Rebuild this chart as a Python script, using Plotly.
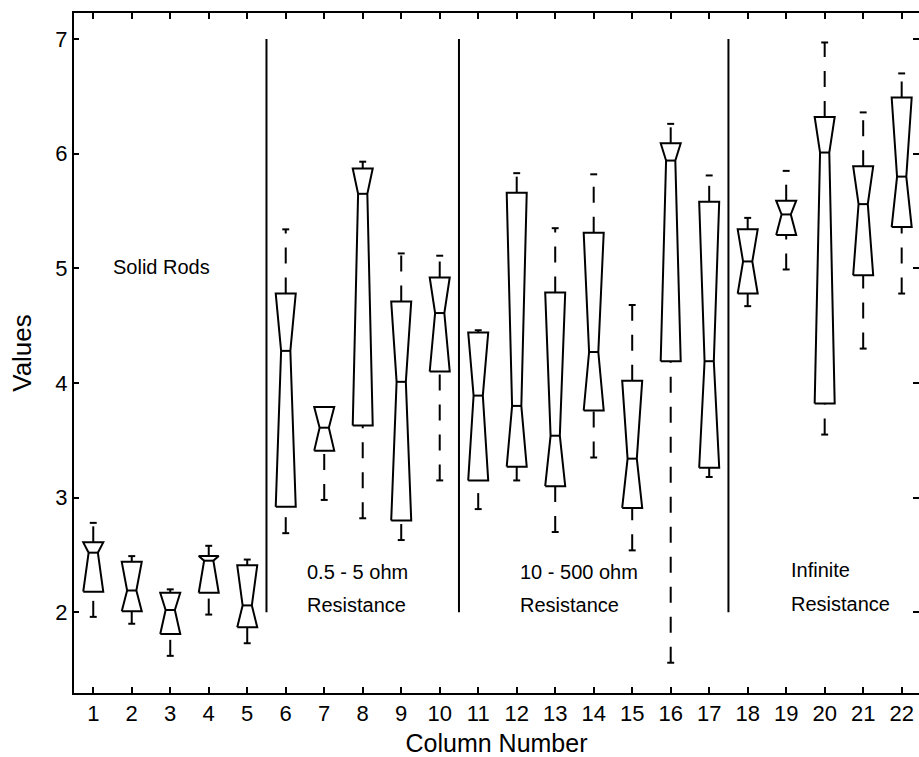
import plotly.graph_objects as go

# ---- data ----
columns = list(range(1, 23))
q1 = [2.18, 2.01, 1.81, 2.17, 1.87, 2.92, 3.41, 3.63, 2.80, 4.10, 3.15,
      3.27, 3.10, 3.76, 2.91, 4.19, 3.26, 4.78, 5.29, 3.82, 4.94, 5.36]
median = [2.52, 2.19, 2.02, 2.45, 2.06, 4.28, 3.61, 5.65, 4.01, 4.61, 3.89,
          3.80, 3.54, 4.27, 3.34, 5.94, 4.19, 5.06, 5.47, 6.01, 5.56, 5.80]
q3 = [2.61, 2.44, 2.17, 2.49, 2.41, 4.78, 3.79, 5.87, 4.71, 4.92, 4.44,
      5.66, 4.79, 5.31, 4.02, 6.09, 5.58, 5.34, 5.59, 6.32, 5.89, 6.49]
whisker_lo = [1.96, 1.90, 1.62, 1.98, 1.73, 2.69, 2.98, 2.82, 2.63, 3.15, 2.90,
              3.15, 2.70, 3.35, 2.54, 1.56, 3.18, 4.67, 4.99, 3.55, 4.30, 4.78]
whisker_hi = [2.78, 2.49, 2.20, 2.58, 2.46, 5.34, 3.79, 5.93, 5.13, 5.11, 4.46,
              5.83, 5.35, 5.82, 4.68, 6.26, 5.81, 5.44, 5.85, 6.97, 6.36, 6.70]

group_dividers = [5.5, 10.5, 17.5]
divider_span = [2.0, 7.0]
group_labels = [["Solid Rods"], ["0.5 - 5 ohm", "Resistance"],
                ["10 - 500 ohm", "Resistance"], ["Infinite", "Resistance"]]
group_label_x = [2.78, 6.5, 12.03, 19.07]
group_label_y = [[5.01], [2.35, 2.06], [2.35, 2.06], [2.37, 2.07]]
y_ticks = [2, 3, 4, 5, 6, 7]

# ---- geometry ----
W = 0.26      # box half width
NW = 0.12     # notch half width
CW = 0.09     # cap half width
FONT = "Arial, Liberation Sans, sans-serif"
LW = 2

bx, by = [], []
mx, my = [], []
wx, wy = [], []
cx, cy = [], []
for x, a, m, b, lo, hi in zip(columns, q1, median, q3, whisker_lo, whisker_hi):
    bx += [x - W, x - NW, x - W, x + W, x + NW, x + W, x - W, None]
    by += [a, m, b, b, m, a, a, None]
    mx += [x - NW, x + NW, None]
    my += [m, m, None]
    # whiskers drawn from low value to high value
    if hi > b:
        wx += [x, x, None]
        wy += [b, hi, None]
    if lo < a:
        wx += [x, x, None]
        wy += [lo, a, None]
    cx += [x - CW, x + CW, None, x - CW, x + CW, None]
    cy += [hi, hi, None, lo, lo, None]

dx, dy = [], []
for d in group_dividers:
    dx += [d, d, None]
    dy += [divider_span[0], divider_span[1], None]

line = dict(color="black", width=LW)
fig = go.Figure()
fig.add_trace(go.Scatter(x=wx, y=wy, mode="lines",
                         line=dict(color="black", width=LW, dash="16px,14px"),
                         hoverinfo="skip", showlegend=False))
fig.add_trace(go.Scatter(x=cx, y=cy, mode="lines", line=line,
                         hoverinfo="skip", showlegend=False))
fig.add_trace(go.Scatter(x=bx, y=by, mode="lines", line=line, fill="toself",
                         fillcolor="white", hoverinfo="skip", showlegend=False))
fig.add_trace(go.Scatter(x=mx, y=my, mode="lines", line=line,
                         hoverinfo="skip", showlegend=False))
fig.add_trace(go.Scatter(x=dx, y=dy, mode="lines", line=line,
                         hoverinfo="skip", showlegend=False))
fig.add_trace(go.Scatter(x=[None], y=[None], yaxis="y2", mode="lines",
                         hoverinfo="skip", showlegend=False))

for lines, lx, lys in zip(group_labels, group_label_x, group_label_y):
    for t, ly in zip(lines, lys):
        fig.add_annotation(x=lx, y=ly, text=t, showarrow=False,
                           xanchor="center" if len(lines) == 1 else "left",
                           yanchor="middle",
                           font=dict(family=FONT, size=20, color="black"))

yr = [1.296, 7.227]
fig.update_layout(
    width=919, height=757,
    margin=dict(l=74, r=0, t=13, b=64),
    paper_bgcolor="white", plot_bgcolor="white",
    font=dict(family=FONT, color="black"),
    xaxis=dict(range=[0.5, 22.45], tickmode="array", tickvals=columns,
               ticktext=[str(c) for c in columns],
               ticks="inside", ticklen=6, tickwidth=2, tickcolor="black",
               showline=True, linecolor="black", linewidth=2, mirror="ticks",
               showgrid=False, zeroline=False,
               tickfont=dict(family=FONT, size=22, color="black"),
               title=dict(text="Column Number", standoff=9,
                          font=dict(family=FONT, size=25, color="black"))),
    yaxis=dict(range=yr, tickmode="array", tickvals=y_ticks,
               ticks="inside", ticklen=5, tickwidth=2, tickcolor="black",
               showline=True, linecolor="black", linewidth=2, mirror=False,
               showgrid=False, zeroline=False,
               tickfont=dict(family=FONT, size=22, color="black"),
               title=dict(text="Values", standoff=16,
                          font=dict(family=FONT, size=26, color="black"))),
    yaxis2=dict(range=yr, overlaying="y", side="right", anchor="x",
                tickmode="array", tickvals=y_ticks, ticks="inside", ticklen=6,
                tickwidth=2, tickcolor="black", showticklabels=False,
                showline=False, showgrid=False, zeroline=False),
)

fig.write_html("out.html")
